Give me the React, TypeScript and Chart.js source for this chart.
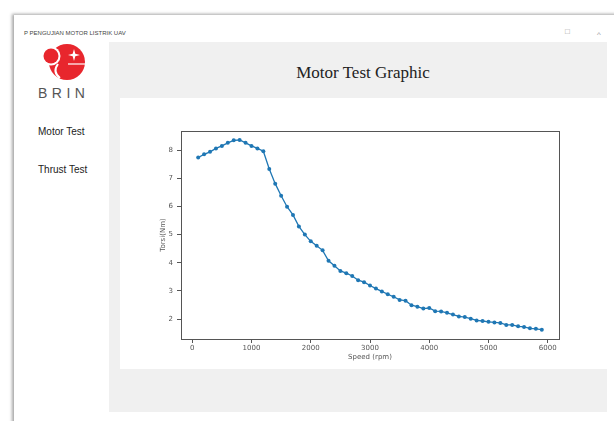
import React, { useEffect, useRef } from "react";
import { Chart, registerables } from "chart.js";

Chart.register(...registerables);

const speedRpm = [
  100, 200, 300, 400, 500, 600, 700, 800, 900, 1000,
  1100, 1200, 1300, 1400, 1500, 1600, 1700, 1800, 1900, 2000,
  2100, 2200, 2300, 2400, 2500, 2600, 2700, 2800, 2900, 3000,
  3100, 3200, 3300, 3400, 3500, 3600, 3700, 3800, 3900, 4000,
  4100, 4200, 4300, 4400, 4500, 4600, 4700, 4800, 4900, 5000,
  5100, 5200, 5300, 5400, 5500, 5600, 5700, 5800, 5900,
];

const torqueNm = [
  7.74, 7.85, 7.94, 8.06, 8.15, 8.26, 8.35, 8.36, 8.26, 8.15,
  8.06, 7.96, 7.33, 6.81, 6.38, 5.99, 5.7, 5.29, 5.0, 4.76,
  4.6, 4.44, 4.07, 3.89, 3.71, 3.63, 3.53, 3.38, 3.31, 3.19,
  3.08, 2.98, 2.88, 2.79, 2.68, 2.65, 2.49, 2.44, 2.37, 2.39,
  2.28, 2.27, 2.22, 2.16, 2.09, 2.07, 2.01, 1.95, 1.93, 1.9,
  1.88, 1.86, 1.79, 1.79, 1.74, 1.72, 1.67, 1.65, 1.62,
];

const xTickValues = [0, 1000, 2000, 3000, 4000, 5000, 6000];
const yTickValues = [2, 3, 4, 5, 6, 7, 8];

const xAxisTitle = "Speed (rpm)";
const yAxisTitle = "Torsi(Nm)";
const chartTitle = "Motor Test Graphic";
const windowTitle = "PENGUJIAN MOTOR LISTRIK UAV";
const menuItems = ["Motor Test", "Thrust Test"];

const framePlugin = {
  id: "frame",
  afterDraw(chart: any) {
    const { ctx, chartArea } = chart;
    ctx.save();
    ctx.strokeStyle = "#555";
    ctx.lineWidth = 1;
    ctx.strokeRect(
      Math.round(chartArea.left) + 0.5,
      Math.round(chartArea.top) + 0.5,
      Math.round(chartArea.right - chartArea.left),
      Math.round(chartArea.bottom - chartArea.top)
    );
    ctx.restore();
  },
};

function MotorChart() {
  const ref = useRef<HTMLCanvasElement | null>(null);
  useEffect(() => {
    if (!ref.current) return;
    const tickFont = { family: "DejaVu Sans", size: 7 };
    const chart = new Chart(ref.current, {
      type: "line",
      data: {
        datasets: [
          {
            data: speedRpm.map((s, i) => ({ x: s, y: torqueNm[i] })),
            borderColor: "#1f77b4",
            backgroundColor: "#1f77b4",
            borderWidth: 1.3,
            pointRadius: 2,
            pointBorderWidth: 0,
            pointBackgroundColor: "#1f77b4",
            tension: 0,
            fill: false,
          },
        ],
      },
      options: {
        animation: false,
        responsive: false,
        layout: { padding: { left: 36, top: 33, right: 48, bottom: 0 } },
        plugins: {
          legend: { display: false },
          tooltip: { enabled: false },
        },
        scales: {
          x: {
            type: "linear",
            min: -190,
            max: 6190,
            afterBuildTicks: (scale: any) => {
              scale.ticks = xTickValues.map((v) => ({ value: v }));
            },
            afterFit: (scale: any) => {
              scale.height = 30;
            },
            grid: {
              display: true,
              drawOnChartArea: false,
              drawTicks: true,
              tickLength: 4,
              tickColor: "#555",
              tickWidth: 1,
            },
            border: { display: true, color: "#555", width: 1 },
            ticks: {
              font: tickFont,
              color: "#555",
              padding: 1,
              maxRotation: 0,
              autoSkip: false,
              callback: (v: any) => String(v),
            },
            title: {
              display: true,
              text: xAxisTitle,
              font: tickFont,
              color: "#555",
              padding: { top: 0, bottom: 8 },
            },
          },
          y: {
            type: "linear",
            min: 1.29,
            max: 8.68,
            afterBuildTicks: (scale: any) => {
              scale.ticks = yTickValues.map((v) => ({ value: v }));
            },
            afterFit: (scale: any) => {
              scale.width = 25;
            },
            grid: {
              display: true,
              drawOnChartArea: false,
              drawTicks: true,
              tickLength: 4,
              tickColor: "#555",
              tickWidth: 1,
            },
            border: { display: true, color: "#555", width: 1 },
            ticks: {
              font: tickFont,
              color: "#555",
              padding: 4,
              autoSkip: false,
              callback: (v: any) => String(v),
            },
            title: {
              display: true,
              text: yAxisTitle,
              font: tickFont,
              color: "#555",
              padding: { top: 3, bottom: 0 },
            },
          },
        },
      },
      plugins: [framePlugin],
    } as any);
    return () => chart.destroy();
  }, []);
  return (
    <canvas
      ref={ref}
      width={487}
      height={271}
      style={{ position: "absolute", left: 120, top: 98, width: 487, height: 271 }}
    />
  );
}

export default function App() {
  return (
    <div
      style={{
        position: "fixed",
        left: 0,
        top: 0,
        width: 614,
        height: 421,
        background: "#fff",
        overflow: "hidden",
        fontFamily: "'Liberation Sans', Arial, sans-serif",
      }}
    >
      {/* window body with shadow */}
      <div
        style={{
          position: "absolute",
          left: 14,
          top: 15,
          width: 640,
          height: 440,
          background: "#fff",
          boxShadow: "-2px -1px 3px rgba(0,0,0,0.35)",
        }}
      />
      {/* title bar */}
      <div
        style={{
          position: "absolute",
          left: 24,
          top: 29,
          fontSize: 6,
          color: "#444",
          whiteSpace: "nowrap",
          lineHeight: "8px",
        }}
      >
        {"P  " + windowTitle}
      </div>
      <div style={{ position: "absolute", left: 565, top: 27, fontSize: 8, color: "#999", lineHeight: "10px" }}>□</div>
      <div style={{ position: "absolute", left: 597, top: 30, fontSize: 8, color: "#999", lineHeight: "10px" }}>^</div>

      {/* logo */}
      <svg
        width={109}
        height={110}
        style={{ position: "absolute", left: 0, top: 0 }}
      >
        <circle cx={67} cy={62} r={18} fill="#e8262d" />
        <circle cx={51} cy={56} r={9.5} fill="#fff" />
        <circle cx={51} cy={56} r={7.5} fill="#e8262d" />
        <path d="M 58 64 Q 52 72 60 78" stroke="#fff" strokeWidth={2} fill="none" />
        <line x1={68} y1={64} x2={86} y2={64} stroke="#fff" strokeWidth={1.2} />
        <path
          d="M 74 49 L 75.3 53.7 L 80 55 L 75.3 56.3 L 74 61 L 72.7 56.3 L 68 55 L 72.7 53.7 Z"
          fill="#fff"
        />
      </svg>
      <div
        style={{
          position: "absolute",
          left: 38,
          top: 85,
          fontSize: 14,
          letterSpacing: 4.5,
          color: "#555",
          lineHeight: "16px",
        }}
      >
        BRIN
      </div>
      {menuItems.map((m, i) => (
        <div
          key={m}
          style={{
            position: "absolute",
            left: 38,
            top: 126 + i * 38,
            fontSize: 10,
            color: "#222",
            lineHeight: "12px",
            whiteSpace: "nowrap",
          }}
        >
          {m}
        </div>
      ))}

      {/* main gray panel */}
      <div
        style={{
          position: "absolute",
          left: 109,
          top: 42,
          width: 498,
          height: 370,
          background: "#f0f0f0",
        }}
      />
      <div
        style={{
          position: "absolute",
          left: 109,
          top: 62,
          width: 508,
          textAlign: "center",
          fontFamily: "'Liberation Serif', serif",
          fontSize: 17,
          color: "#222",
          lineHeight: "22px",
        }}
      >
        {chartTitle}
      </div>
      <div
        style={{
          position: "absolute",
          left: 120,
          top: 98,
          width: 487,
          height: 271,
          background: "#fff",
        }}
      />
      <MotorChart />
    </div>
  );
}
